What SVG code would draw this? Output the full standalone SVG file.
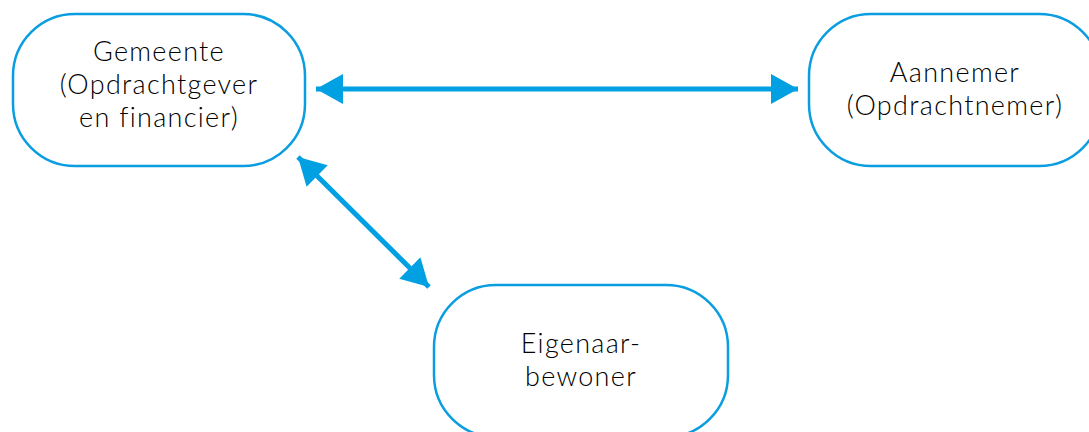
<svg xmlns="http://www.w3.org/2000/svg" width="1089" height="432" viewBox="0 0 1089 432">
<style>
.node{fill:#fff;stroke:#0a9de0;stroke-width:2.5}
.lbl{font-family:Lato,"Noto Sans",sans-serif;font-weight:300;font-size:27px;letter-spacing:1.3px;fill:#000;text-anchor:middle}
.conn{stroke:#00a0e3;stroke-width:5;fill:none}
</style>
<defs>
<marker id="ah" markerUnits="userSpaceOnUse" markerWidth="28" markerHeight="30" refX="27" refY="15" orient="auto-start-reverse" viewBox="0 0 28 30">
<path d="M0,0 L27,15 L0,30 z" fill="#00a0e3"/>
</marker>
</defs>
<rect width="1089" height="432" fill="#fff"/>
<g id="connectors">
<line class="conn" x1="316" y1="89" x2="798" y2="89" marker-start="url(#ah)" marker-end="url(#ah)"/>
<line class="conn" x1="298" y1="157" x2="429" y2="287" marker-start="url(#ah)" marker-end="url(#ah)"/>
</g>
<g id="gemeente">
<rect class="node" x="13" y="14" width="292" height="152" rx="62"/>
<text class="lbl" x="159" y="61">Gemeente</text>
<text class="lbl" x="159" y="94">(Opdrachtgever</text>
<text class="lbl" x="159" y="127">en financier)</text>
</g>
<g id="aannemer">
<rect class="node" x="809" y="14" width="292" height="152" rx="62"/>
<text class="lbl" x="955" y="82">Aannemer</text>
<text class="lbl" x="955" y="115">(Opdrachtnemer)</text>
</g>
<g id="eigenaar">
<rect class="node" x="434" y="285" width="294" height="152" rx="62"/>
<text class="lbl" x="581" y="353">Eigenaar-</text>
<text class="lbl" x="581" y="386">bewoner</text>
</g>
</svg>
